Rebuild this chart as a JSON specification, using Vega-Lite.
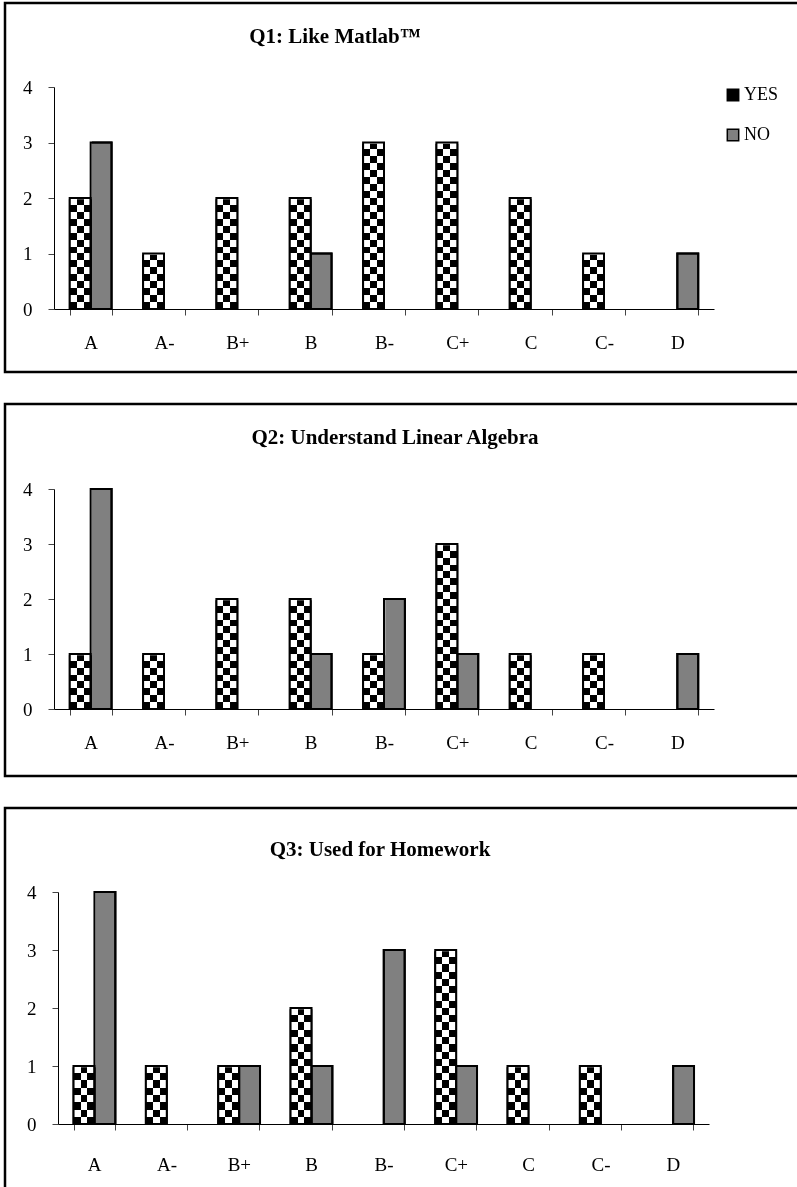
{
  "$schema": "https://vega.github.io/schema/vega-lite/v6.json",
  "padding": {"left": 3, "top": 1, "right": 0, "bottom": 0},
  "background": "white",
  "spacing": 28,
  "datasets": {
    "q1": [
      {"grade": "A", "answer": "YES", "value": 2},
      {"grade": "A", "answer": "NO", "value": 3},
      {"grade": "A-", "answer": "YES", "value": 1},
      {"grade": "B+", "answer": "YES", "value": 2},
      {"grade": "B", "answer": "YES", "value": 2},
      {"grade": "B", "answer": "NO", "value": 1},
      {"grade": "B-", "answer": "YES", "value": 3},
      {"grade": "C+", "answer": "YES", "value": 3},
      {"grade": "C", "answer": "YES", "value": 2},
      {"grade": "C-", "answer": "YES", "value": 1},
      {"grade": "D", "answer": "NO", "value": 1}
    ],
    "q2": [
      {"grade": "A", "answer": "YES", "value": 1},
      {"grade": "A", "answer": "NO", "value": 4},
      {"grade": "A-", "answer": "YES", "value": 1},
      {"grade": "B+", "answer": "YES", "value": 2},
      {"grade": "B", "answer": "YES", "value": 2},
      {"grade": "B", "answer": "NO", "value": 1},
      {"grade": "B-", "answer": "YES", "value": 1},
      {"grade": "B-", "answer": "NO", "value": 2},
      {"grade": "C+", "answer": "YES", "value": 3},
      {"grade": "C+", "answer": "NO", "value": 1},
      {"grade": "C", "answer": "YES", "value": 1},
      {"grade": "C-", "answer": "YES", "value": 1},
      {"grade": "D", "answer": "NO", "value": 1}
    ],
    "q3": [
      {"grade": "A", "answer": "YES", "value": 1},
      {"grade": "A", "answer": "NO", "value": 4},
      {"grade": "A-", "answer": "YES", "value": 1},
      {"grade": "B+", "answer": "YES", "value": 1},
      {"grade": "B+", "answer": "NO", "value": 1},
      {"grade": "B", "answer": "YES", "value": 2},
      {"grade": "B", "answer": "NO", "value": 1},
      {"grade": "B-", "answer": "NO", "value": 3},
      {"grade": "C+", "answer": "YES", "value": 3},
      {"grade": "C+", "answer": "NO", "value": 1},
      {"grade": "C", "answer": "YES", "value": 1},
      {"grade": "C-", "answer": "YES", "value": 1},
      {"grade": "D", "answer": "NO", "value": 1}
    ]
  },
  "config": {
    "view": {"stroke": "black", "strokeWidth": 2.5},
    "axis": {"labelFont": "Liberation Serif", "labelFontSize": 19, "labelColor": "black", "domainColor": "black", "domainWidth": 1, "tickColor": "#444", "tickSize": 6, "grid": false},
    "legend": {"labelFont": "Liberation Serif", "labelFontSize": 18, "labelColor": "black", "symbolType": "square", "symbolSize": 130, "symbolStrokeColor": "black", "symbolStrokeWidth": 1.5, "rowPadding": 22, "padding": 0, "labelOffset": 2},
    "title": {"font": "Liberation Serif", "fontSize": 21, "fontWeight": "bold", "color": "black"}
  },
  "vconcat": [
    {
      "data": {"name": "q1"},
      "width": 800,
      "height": 369,
      "title": {"text": "Q1: Like Matlab™", "dx": -70, "dy": 55, "offset": 0, "baseline": "middle"},
      "encoding": {
        "x": {"field": "grade", "type": "nominal", "scale": {"domain": ["A", "A-", "B+", "B", "B-", "C+", "C", "C-", "D"], "range": [49, 709], "paddingInner": 0.43, "paddingOuter": 0.215}, "axis": {"title": null, "offset": -63, "tickBand": "extent", "labelAngle": 0, "labelPadding": 18, "labelFont": "Liberation Serif", "labelFontSize": 19}},
        "xOffset": {"field": "answer", "type": "nominal", "scale": {"domain": ["YES", "NO"]}}
      },
      "layer": [
        {"mark": {"type": "bar", "stroke": "black", "strokeWidth": 2},
         "encoding": {
           "y": {"field": "value", "type": "quantitative", "stack": null, "scale": {"domain": [0, 4], "range": [306, 84], "nice": false}, "axis": {"title": null, "offset": -49, "values": [0, 1, 2, 3, 4], "format": "d", "labelPadding": 16, "ticks": true, "tickSize": 6, "tickColor": "#444", "domain": true, "labelFont": "Liberation Serif", "labelFontSize": 19}},
           "fill": {"field": "answer", "type": "nominal", "scale": {"domain": ["YES", "NO"], "range": ["#000000", "#808080"]}, "legend": {"title": null, "orient": "none", "legendX": 719, "legendY": 83}}
         }},
        {"transform": [{"filter": "datum.answer === 'YES'"}],
         "mark": {"type": "bar", "fill": {"gradient": "linear", "x1": 0, "y1": 0, "x2": 1, "y2": 0, "stops": [{"offset": 0, "color": "#000"}, {"offset": 0.333, "color": "#000"}, {"offset": 0.333, "color": "#fff"}, {"offset": 0.667, "color": "#fff"}, {"offset": 0.667, "color": "#000"}, {"offset": 1, "color": "#000"}]}},
         "encoding": {"y": {"field": "value", "type": "quantitative", "stack": null}}},
        {"transform": [{"filter": "datum.answer === 'YES'"}],
         "mark": {"type": "bar", "blend": "difference", "fill": {"gradient": "linear", "x1": 0, "y1": 0, "x2": 0, "y2": 1, "stops": [
           {"offset": 0, "color": "#fff"}, {"offset": 0.03125, "color": "#fff"},
           {"offset": 0.03125, "color": "#000"}, {"offset": 0.0625, "color": "#000"},
           {"offset": 0.0625, "color": "#fff"}, {"offset": 0.09375, "color": "#fff"},
           {"offset": 0.09375, "color": "#000"}, {"offset": 0.125, "color": "#000"},
           {"offset": 0.125, "color": "#fff"}, {"offset": 0.15625, "color": "#fff"},
           {"offset": 0.15625, "color": "#000"}, {"offset": 0.1875, "color": "#000"},
           {"offset": 0.1875, "color": "#fff"}, {"offset": 0.21875, "color": "#fff"},
           {"offset": 0.21875, "color": "#000"}, {"offset": 0.25, "color": "#000"},
           {"offset": 0.25, "color": "#fff"}, {"offset": 0.28125, "color": "#fff"},
           {"offset": 0.28125, "color": "#000"}, {"offset": 0.3125, "color": "#000"},
           {"offset": 0.3125, "color": "#fff"}, {"offset": 0.34375, "color": "#fff"},
           {"offset": 0.34375, "color": "#000"}, {"offset": 0.375, "color": "#000"},
           {"offset": 0.375, "color": "#fff"}, {"offset": 0.40625, "color": "#fff"},
           {"offset": 0.40625, "color": "#000"}, {"offset": 0.4375, "color": "#000"},
           {"offset": 0.4375, "color": "#fff"}, {"offset": 0.46875, "color": "#fff"},
           {"offset": 0.46875, "color": "#000"}, {"offset": 0.5, "color": "#000"},
           {"offset": 0.5, "color": "#fff"}, {"offset": 0.53125, "color": "#fff"},
           {"offset": 0.53125, "color": "#000"}, {"offset": 0.5625, "color": "#000"},
           {"offset": 0.5625, "color": "#fff"}, {"offset": 0.59375, "color": "#fff"},
           {"offset": 0.59375, "color": "#000"}, {"offset": 0.625, "color": "#000"},
           {"offset": 0.625, "color": "#fff"}, {"offset": 0.65625, "color": "#fff"},
           {"offset": 0.65625, "color": "#000"}, {"offset": 0.6875, "color": "#000"},
           {"offset": 0.6875, "color": "#fff"}, {"offset": 0.71875, "color": "#fff"},
           {"offset": 0.71875, "color": "#000"}, {"offset": 0.75, "color": "#000"},
           {"offset": 0.75, "color": "#fff"}, {"offset": 0.78125, "color": "#fff"},
           {"offset": 0.78125, "color": "#000"}, {"offset": 0.8125, "color": "#000"},
           {"offset": 0.8125, "color": "#fff"}, {"offset": 0.84375, "color": "#fff"},
           {"offset": 0.84375, "color": "#000"}, {"offset": 0.875, "color": "#000"},
           {"offset": 0.875, "color": "#fff"}, {"offset": 0.90625, "color": "#fff"},
           {"offset": 0.90625, "color": "#000"}, {"offset": 0.9375, "color": "#000"},
           {"offset": 0.9375, "color": "#fff"}, {"offset": 0.96875, "color": "#fff"},
           {"offset": 0.96875, "color": "#000"}, {"offset": 1, "color": "#000"}]}},
         "encoding": {"y": {"datum": 4, "type": "quantitative"}, "y2": {"datum": 0}}},
        {"transform": [{"filter": "datum.answer === 'YES'"}],
         "mark": {"type": "bar", "fill": "white", "stroke": "white", "strokeWidth": 2.5},
         "encoding": {"y": {"field": "value", "type": "quantitative", "stack": null}, "y2": {"datum": 4}}},
        {"mark": {"type": "bar", "fillOpacity": 0, "stroke": "black", "strokeWidth": 2},
         "encoding": {"y": {"field": "value", "type": "quantitative", "stack": null}}}
      ]
    },
    {
      "data": {"name": "q2"},
      "width": 800,
      "height": 372,
      "title": {"text": "Q2: Understand Linear Algebra", "dx": -10, "dy": 55, "offset": 0, "baseline": "middle"},
      "encoding": {
        "x": {"field": "grade", "type": "nominal", "scale": {"domain": ["A", "A-", "B+", "B", "B-", "C+", "C", "C-", "D"], "range": [49, 709], "paddingInner": 0.43, "paddingOuter": 0.215}, "axis": {"title": null, "offset": -67, "tickBand": "extent", "labelAngle": 0, "labelPadding": 18, "labelFont": "Liberation Serif", "labelFontSize": 19}},
        "xOffset": {"field": "answer", "type": "nominal", "scale": {"domain": ["YES", "NO"]}}
      },
      "layer": [
        {"mark": {"type": "bar", "stroke": "black", "strokeWidth": 2},
         "encoding": {
           "y": {"field": "value", "type": "quantitative", "stack": null, "scale": {"domain": [0, 4], "range": [305, 85], "nice": false}, "axis": {"title": null, "offset": -49, "values": [0, 1, 2, 3, 4], "format": "d", "labelPadding": 16, "ticks": true, "tickSize": 6, "tickColor": "#444", "domain": true, "labelFont": "Liberation Serif", "labelFontSize": 19}},
           "fill": {"field": "answer", "type": "nominal", "scale": {"domain": ["YES", "NO"], "range": ["#000000", "#808080"]}, "legend": {"title": null, "orient": "none", "legendX": 719, "legendY": 79}}
         }},
        {"transform": [{"filter": "datum.answer === 'YES'"}],
         "mark": {"type": "bar", "fill": {"gradient": "linear", "x1": 0, "y1": 0, "x2": 1, "y2": 0, "stops": [{"offset": 0, "color": "#000"}, {"offset": 0.333, "color": "#000"}, {"offset": 0.333, "color": "#fff"}, {"offset": 0.667, "color": "#fff"}, {"offset": 0.667, "color": "#000"}, {"offset": 1, "color": "#000"}]}},
         "encoding": {"y": {"field": "value", "type": "quantitative", "stack": null}}},
        {"transform": [{"filter": "datum.answer === 'YES'"}],
         "mark": {"type": "bar", "blend": "difference", "fill": {"gradient": "linear", "x1": 0, "y1": 0, "x2": 0, "y2": 1, "stops": [
           {"offset": 0, "color": "#fff"}, {"offset": 0.03125, "color": "#fff"},
           {"offset": 0.03125, "color": "#000"}, {"offset": 0.0625, "color": "#000"},
           {"offset": 0.0625, "color": "#fff"}, {"offset": 0.09375, "color": "#fff"},
           {"offset": 0.09375, "color": "#000"}, {"offset": 0.125, "color": "#000"},
           {"offset": 0.125, "color": "#fff"}, {"offset": 0.15625, "color": "#fff"},
           {"offset": 0.15625, "color": "#000"}, {"offset": 0.1875, "color": "#000"},
           {"offset": 0.1875, "color": "#fff"}, {"offset": 0.21875, "color": "#fff"},
           {"offset": 0.21875, "color": "#000"}, {"offset": 0.25, "color": "#000"},
           {"offset": 0.25, "color": "#fff"}, {"offset": 0.28125, "color": "#fff"},
           {"offset": 0.28125, "color": "#000"}, {"offset": 0.3125, "color": "#000"},
           {"offset": 0.3125, "color": "#fff"}, {"offset": 0.34375, "color": "#fff"},
           {"offset": 0.34375, "color": "#000"}, {"offset": 0.375, "color": "#000"},
           {"offset": 0.375, "color": "#fff"}, {"offset": 0.40625, "color": "#fff"},
           {"offset": 0.40625, "color": "#000"}, {"offset": 0.4375, "color": "#000"},
           {"offset": 0.4375, "color": "#fff"}, {"offset": 0.46875, "color": "#fff"},
           {"offset": 0.46875, "color": "#000"}, {"offset": 0.5, "color": "#000"},
           {"offset": 0.5, "color": "#fff"}, {"offset": 0.53125, "color": "#fff"},
           {"offset": 0.53125, "color": "#000"}, {"offset": 0.5625, "color": "#000"},
           {"offset": 0.5625, "color": "#fff"}, {"offset": 0.59375, "color": "#fff"},
           {"offset": 0.59375, "color": "#000"}, {"offset": 0.625, "color": "#000"},
           {"offset": 0.625, "color": "#fff"}, {"offset": 0.65625, "color": "#fff"},
           {"offset": 0.65625, "color": "#000"}, {"offset": 0.6875, "color": "#000"},
           {"offset": 0.6875, "color": "#fff"}, {"offset": 0.71875, "color": "#fff"},
           {"offset": 0.71875, "color": "#000"}, {"offset": 0.75, "color": "#000"},
           {"offset": 0.75, "color": "#fff"}, {"offset": 0.78125, "color": "#fff"},
           {"offset": 0.78125, "color": "#000"}, {"offset": 0.8125, "color": "#000"},
           {"offset": 0.8125, "color": "#fff"}, {"offset": 0.84375, "color": "#fff"},
           {"offset": 0.84375, "color": "#000"}, {"offset": 0.875, "color": "#000"},
           {"offset": 0.875, "color": "#fff"}, {"offset": 0.90625, "color": "#fff"},
           {"offset": 0.90625, "color": "#000"}, {"offset": 0.9375, "color": "#000"},
           {"offset": 0.9375, "color": "#fff"}, {"offset": 0.96875, "color": "#fff"},
           {"offset": 0.96875, "color": "#000"}, {"offset": 1, "color": "#000"}]}},
         "encoding": {"y": {"datum": 4, "type": "quantitative"}, "y2": {"datum": 0}}},
        {"transform": [{"filter": "datum.answer === 'YES'"}],
         "mark": {"type": "bar", "fill": "white", "stroke": "white", "strokeWidth": 2.5},
         "encoding": {"y": {"field": "value", "type": "quantitative", "stack": null}, "y2": {"datum": 4}}},
        {"mark": {"type": "bar", "fillOpacity": 0, "stroke": "black", "strokeWidth": 2},
         "encoding": {"y": {"field": "value", "type": "quantitative", "stack": null}}}
      ]
    },
    {
      "data": {"name": "q3"},
      "width": 800,
      "height": 400,
      "title": {"text": "Q3: Used for Homework", "dx": -25, "dy": 63, "offset": 0, "baseline": "middle"},
      "encoding": {
        "x": {"field": "grade", "type": "nominal", "scale": {"domain": ["A", "A-", "B+", "B", "B-", "C+", "C", "C-", "D"], "range": [53, 704], "paddingInner": 0.43, "paddingOuter": 0.215}, "axis": {"title": null, "offset": -84, "tickBand": "extent", "labelAngle": 0, "labelPadding": 25, "labelFont": "Liberation Serif", "labelFontSize": 19}},
        "xOffset": {"field": "answer", "type": "nominal", "scale": {"domain": ["YES", "NO"]}}
      },
      "layer": [
        {"mark": {"type": "bar", "stroke": "black", "strokeWidth": 2},
         "encoding": {
           "y": {"field": "value", "type": "quantitative", "stack": null, "scale": {"domain": [0, 4], "range": [316, 84], "nice": false}, "axis": {"title": null, "offset": -53, "values": [0, 1, 2, 3, 4], "format": "d", "labelPadding": 16, "ticks": true, "tickSize": 6, "tickColor": "#444", "domain": true, "labelFont": "Liberation Serif", "labelFontSize": 19}},
           "fill": {"field": "answer", "type": "nominal", "scale": {"domain": ["YES", "NO"], "range": ["#000000", "#808080"]}, "legend": {"title": null, "orient": "none", "legendX": 718, "legendY": 83}}
         }},
        {"transform": [{"filter": "datum.answer === 'YES'"}],
         "mark": {"type": "bar", "fill": {"gradient": "linear", "x1": 0, "y1": 0, "x2": 1, "y2": 0, "stops": [{"offset": 0, "color": "#000"}, {"offset": 0.333, "color": "#000"}, {"offset": 0.333, "color": "#fff"}, {"offset": 0.667, "color": "#fff"}, {"offset": 0.667, "color": "#000"}, {"offset": 1, "color": "#000"}]}},
         "encoding": {"y": {"field": "value", "type": "quantitative", "stack": null}}},
        {"transform": [{"filter": "datum.answer === 'YES'"}],
         "mark": {"type": "bar", "blend": "difference", "fill": {"gradient": "linear", "x1": 0, "y1": 0, "x2": 0, "y2": 1, "stops": [
           {"offset": 0, "color": "#fff"}, {"offset": 0.03125, "color": "#fff"},
           {"offset": 0.03125, "color": "#000"}, {"offset": 0.0625, "color": "#000"},
           {"offset": 0.0625, "color": "#fff"}, {"offset": 0.09375, "color": "#fff"},
           {"offset": 0.09375, "color": "#000"}, {"offset": 0.125, "color": "#000"},
           {"offset": 0.125, "color": "#fff"}, {"offset": 0.15625, "color": "#fff"},
           {"offset": 0.15625, "color": "#000"}, {"offset": 0.1875, "color": "#000"},
           {"offset": 0.1875, "color": "#fff"}, {"offset": 0.21875, "color": "#fff"},
           {"offset": 0.21875, "color": "#000"}, {"offset": 0.25, "color": "#000"},
           {"offset": 0.25, "color": "#fff"}, {"offset": 0.28125, "color": "#fff"},
           {"offset": 0.28125, "color": "#000"}, {"offset": 0.3125, "color": "#000"},
           {"offset": 0.3125, "color": "#fff"}, {"offset": 0.34375, "color": "#fff"},
           {"offset": 0.34375, "color": "#000"}, {"offset": 0.375, "color": "#000"},
           {"offset": 0.375, "color": "#fff"}, {"offset": 0.40625, "color": "#fff"},
           {"offset": 0.40625, "color": "#000"}, {"offset": 0.4375, "color": "#000"},
           {"offset": 0.4375, "color": "#fff"}, {"offset": 0.46875, "color": "#fff"},
           {"offset": 0.46875, "color": "#000"}, {"offset": 0.5, "color": "#000"},
           {"offset": 0.5, "color": "#fff"}, {"offset": 0.53125, "color": "#fff"},
           {"offset": 0.53125, "color": "#000"}, {"offset": 0.5625, "color": "#000"},
           {"offset": 0.5625, "color": "#fff"}, {"offset": 0.59375, "color": "#fff"},
           {"offset": 0.59375, "color": "#000"}, {"offset": 0.625, "color": "#000"},
           {"offset": 0.625, "color": "#fff"}, {"offset": 0.65625, "color": "#fff"},
           {"offset": 0.65625, "color": "#000"}, {"offset": 0.6875, "color": "#000"},
           {"offset": 0.6875, "color": "#fff"}, {"offset": 0.71875, "color": "#fff"},
           {"offset": 0.71875, "color": "#000"}, {"offset": 0.75, "color": "#000"},
           {"offset": 0.75, "color": "#fff"}, {"offset": 0.78125, "color": "#fff"},
           {"offset": 0.78125, "color": "#000"}, {"offset": 0.8125, "color": "#000"},
           {"offset": 0.8125, "color": "#fff"}, {"offset": 0.84375, "color": "#fff"},
           {"offset": 0.84375, "color": "#000"}, {"offset": 0.875, "color": "#000"},
           {"offset": 0.875, "color": "#fff"}, {"offset": 0.90625, "color": "#fff"},
           {"offset": 0.90625, "color": "#000"}, {"offset": 0.9375, "color": "#000"},
           {"offset": 0.9375, "color": "#fff"}, {"offset": 0.96875, "color": "#fff"},
           {"offset": 0.96875, "color": "#000"}, {"offset": 1, "color": "#000"}]}},
         "encoding": {"y": {"datum": 4, "type": "quantitative"}, "y2": {"datum": 0}}},
        {"transform": [{"filter": "datum.answer === 'YES'"}],
         "mark": {"type": "bar", "fill": "white", "stroke": "white", "strokeWidth": 2.5},
         "encoding": {"y": {"field": "value", "type": "quantitative", "stack": null}, "y2": {"datum": 4}}},
        {"mark": {"type": "bar", "fillOpacity": 0, "stroke": "black", "strokeWidth": 2},
         "encoding": {"y": {"field": "value", "type": "quantitative", "stack": null}}}
      ]
    }
  ]
}
